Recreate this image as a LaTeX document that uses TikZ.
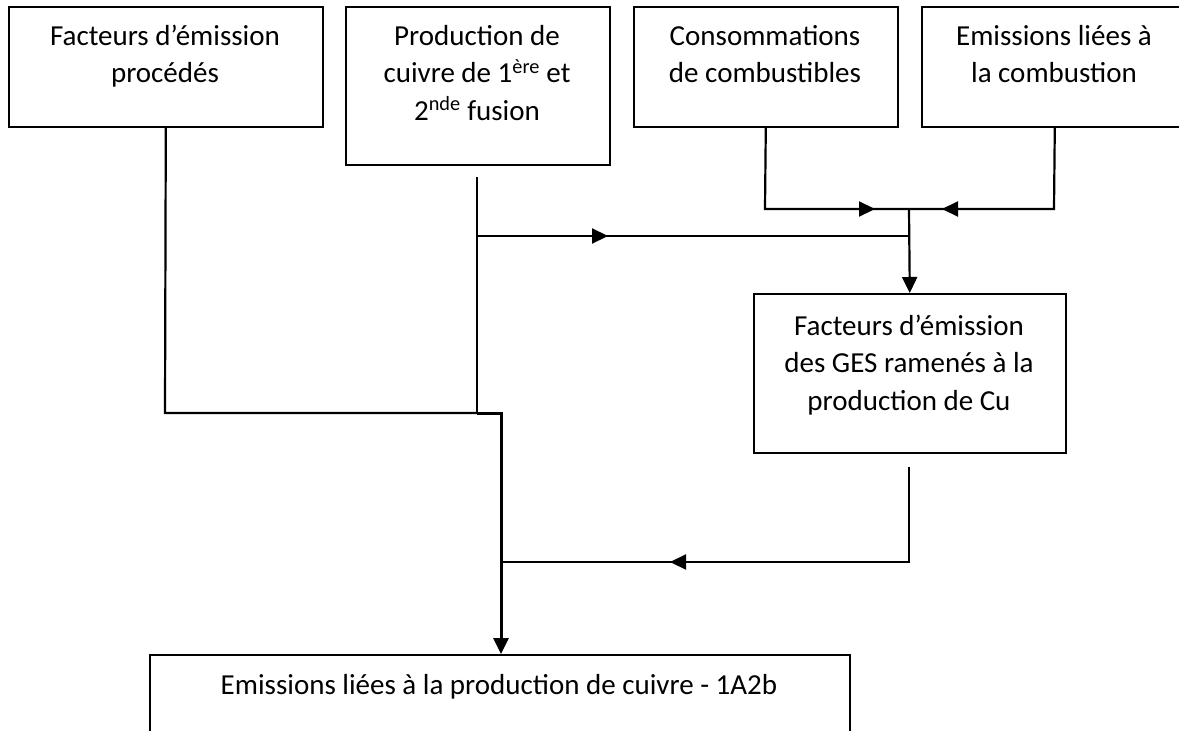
\documentclass[tikz,border=0pt]{standalone}
\usepackage{fontspec}
\setmainfont{Carlito}
\usetikzlibrary{arrows.meta}
\begin{document}
\begin{tikzpicture}[x=1pt,y=-1pt,
  box/.style={draw, line width=1.6pt, rectangle, anchor=north west, inner sep=0pt},
  boxtext/.style={anchor=base, align=flush center, inner sep=0pt,
    font=\fontsize{29}{37.5}\selectfont},
  link/.style={line width=2.2pt},
  mainlink/.style={line width=3pt},
  tip/.style={-{Triangle[length=16pt,width=15pt]}}
]
\useasboundingbox (0,0) rectangle (1179,731);

% boxes
\node[box, minimum width=314pt, minimum height=120pt] (b1) at (8,6) {};
\node[box, minimum width=264pt, minimum height=158pt] (b2) at (345,6) {};
\node[box, minimum width=264pt, minimum height=120pt] (b3) at (633,6) {};
\node[box, minimum width=266pt, minimum height=120pt] (b4) at (921,6) {};
\node[box, minimum width=312pt, minimum height=159pt] (b5) at (753,293) {};
\node[box, minimum width=700pt, minimum height=110pt] (b6) at (149,654) {};

% box texts
\node[boxtext, text width=300pt] (t1) at (165,45) {Facteurs d’émission\\procédés};
\node[boxtext, text width=250pt] (t2) at (477,45)
  {Production de\\cuivre de 1\textsuperscript{ère} et\\2\textsuperscript{nde} fusion};
\node[boxtext, text width=250pt] (t3) at (765,45) {Consommations\\de combustibles};
\node[boxtext, text width=250pt] (t4) at (1054,45) {Emissions liées à\\la combustion};
\node[boxtext, text width=300pt] (t5) at (909,335)
  {Facteurs d’émission\\des GES ramenés à la\\production de Cu};
\node[boxtext, text width=680pt] (t6) at (499,694)
  {Emissions liées à la production de cuivre - 1A2b};

% junction points
\coordinate (p1) at (165,413);
\coordinate (step) at (477,413);
\coordinate (stepr) at (501,413);
\coordinate (p2top) at (477,177);
\coordinate (p2mid) at (477,236);
\coordinate (a1) at (608,236);
\coordinate (j) at (909,209);
\coordinate (jlow) at (909,236);
\coordinate (c3) at (765,209);
\coordinate (a3) at (875,209);
\coordinate (c4) at (1054,209);
\coordinate (a4) at (942,209);
\coordinate (g5) at (909,467);
\coordinate (g5c) at (909,562);
\coordinate (m5) at (501,562);
\coordinate (a5) at (670,562);

% connectors
\draw[link] (b1.south) -- (p1) -- (step);
\draw[link] (p2top) -- (step);
\draw[mainlink, tip] (step) -- (stepr) -- (stepr |- b6.north);

\draw[link] (p2mid) -- (jlow);
\draw[link, tip] (p2mid) -- (a1);

\draw[link] (b3.south) -- (c3) -- (j);
\draw[link, tip] (c3) -- (a3);
\draw[link] (b4.south) -- (c4) -- (j);
\draw[link, tip] (c4) -- (a4);
\draw[link, tip] (j) -- (b5.north);

\draw[link] (g5) -- (g5c) -- (m5);
\draw[link, tip] (g5c) -- (a5);
\end{tikzpicture}
\end{document}
